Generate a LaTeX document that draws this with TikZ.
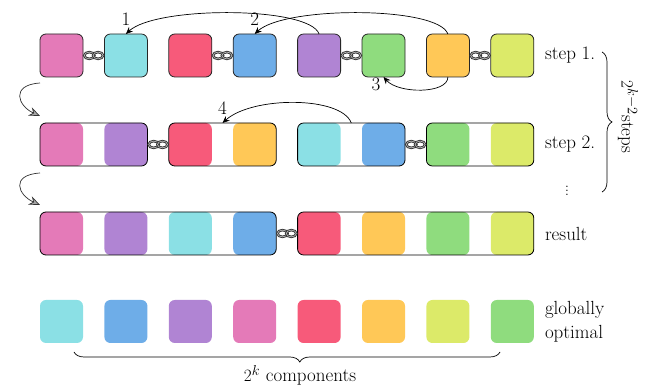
\documentclass[tikz,border=0pt]{standalone}
\usepackage{tikz}
\usetikzlibrary{arrows.meta, positioning, calc, fit, decorations.pathreplacing}
\usepackage{xcolor}
\definecolor{cpink}{HTML}{E47AB8}
\definecolor{ccyan}{HTML}{8BE0E5}
\definecolor{cred}{HTML}{F75A7A}
\definecolor{cblue}{HTML}{6EADE8}
\definecolor{cpurple}{HTML}{B084D3}
\definecolor{cgreen}{HTML}{8FDC7E}
\definecolor{corange}{HTML}{FFC857}
\definecolor{clime}{HTML}{DCEA69}

\begin{document}
\begin{tikzpicture}[
  x=1pt, y=1pt,
  font=\fontsize{19}{24}\selectfont,
  cell/.style={rectangle, rounded corners=6pt, minimum width=43pt,
    minimum height=43pt, inner sep=0pt, outer sep=0pt},
  cellb/.style={cell, draw=black!85, line width=0.8pt},
  group/.style={rectangle, draw=black, rounded corners=6pt, inner sep=0pt,
    outer sep=0pt, line width=0.8pt},
  linkline/.style={draw=black!80, line width=0.9pt, double=gray!55,
    double distance=0.7pt},
  chainlink/.pic={
    \draw[linkline] (-4.4,0) ellipse (5 and 3.4);
    \draw[linkline] (4.4,0) ellipse (5 and 3.4);
  },
  jump/.style={-{Stealth[length=7pt, width=6pt]}, line width=0.7pt},
  turn/.style={-{Stealth[length=11pt, width=9pt, fill=gray!70]},
    line width=0.7pt, black!80},
  num/.style={inner sep=0pt},
  txt/.style={inner sep=0pt, align=left},
  brace/.style={decorate, decoration={brace, amplitude=10pt}, line width=0.7pt},
  node distance=46pt and 21.4pt
]
\useasboundingbox (0,0) rectangle (653,387);

% Step 1
\node[cellb, fill=cpink] (a1) at (61.5,331.5) {};
\node[cellb, fill=ccyan, right=of a1] (a2) {};
\node[cellb, fill=cred, right=of a2] (a3) {};
\node[cellb, fill=cblue, right=of a3] (a4) {};
\node[cellb, fill=cpurple, right=of a4] (a5) {};
\node[cellb, fill=cgreen, right=of a5] (a6) {};
\node[cellb, fill=corange, right=of a6] (a7) {};
\node[cellb, fill=clime, right=of a7] (a8) {};

% Step 2
\node[cell, fill=cpink, below=of a1] (b1) {};
\node[cell, fill=cpurple, right=of b1] (b2) {};
\node[cell, fill=cred, right=of b2] (b3) {};
\node[cell, fill=corange, right=of b3] (b4) {};
\node[cell, fill=ccyan, right=of b4] (b5) {};
\node[cell, fill=cblue, right=of b5] (b6) {};
\node[cell, fill=cgreen, right=of b6] (b7) {};
\node[cell, fill=clime, right=of b7] (b8) {};
\node[group, fit=(b1)(b2)] (gb1) {};
\node[group, fit=(b3)(b4)] (gb2) {};
\node[group, fit=(b5)(b6)] (gb3) {};
\node[group, fit=(b7)(b8)] (gb4) {};

% Result
\node[cell, fill=cpink, below=of b1] (r1) {};
\node[cell, fill=cpurple, right=of r1] (r2) {};
\node[cell, fill=ccyan, right=of r2] (r3) {};
\node[cell, fill=cblue, right=of r3] (r4) {};
\node[cell, fill=cred, right=of r4] (r5) {};
\node[cell, fill=corange, right=of r5] (r6) {};
\node[cell, fill=cgreen, right=of r6] (r7) {};
\node[cell, fill=clime, right=of r7] (r8) {};
\node[group, fit=(r1)(r4)] (gr1) {};
\node[group, fit=(r5)(r8)] (gr2) {};

% Globally optimal
\node[cell, fill=ccyan, below=45pt of r1] (o1) {};
\node[cell, fill=cblue, right=of o1] (o2) {};
\node[cell, fill=cpurple, right=of o2] (o3) {};
\node[cell, fill=cpink, right=of o3] (o4) {};
\node[cell, fill=cred, right=of o4] (o5) {};
\node[cell, fill=corange, right=of o5] (o6) {};
\node[cell, fill=clime, right=of o6] (o7) {};
\node[cell, fill=cgreen, right=of o7] (o8) {};

% Links
\pic at ($(a1.east)!0.5!(a2.west)$) {chainlink};
\pic at ($(a3.east)!0.5!(a4.west)$) {chainlink};
\pic at ($(a5.east)!0.5!(a6.west)$) {chainlink};
\pic at ($(a7.east)!0.5!(a8.west)$) {chainlink};
\pic at ($(gb1.east)!0.5!(gb2.west)$) {chainlink};
\pic at ($(gb3.east)!0.5!(gb4.west)$) {chainlink};
\pic at ($(gr1.east)!0.5!(gr2.west)$) {chainlink};

% Moves
\draw[jump] (a5.north) .. controls +(-10,28) and +(30,28) .. (a2.north);
\node[num, above=8pt of a2.north] (n1) {1};
\draw[jump] (a7.north) .. controls +(-10,28) and +(30,28) .. (a4.north);
\node[num, above=8pt of a4.north] (n2) {2};
\draw[jump] (a7.south) .. controls +(0,-17) and +(15,-17) .. (a6.south);
\node[num, below left=1pt and 3pt of a6.south] (n3) {3};
\draw[jump] (gb3.north) .. controls +(-10,27) and +(30,27) .. (gb2.north);
\node[num, above=8pt of gb2.north] (n4) {4};

% Step arrows
\coordinate (s1) at ([yshift=-6pt]a1.south west);
\coordinate (e1) at ([yshift=7pt]gb1.north west);
\draw[turn] (s1) .. controls +(-30,-2) and +(-22,10) .. (e1);
\coordinate (s2) at ([yshift=-7pt]gb1.south west);
\coordinate (e2) at ([yshift=7pt]gr1.north west);
\draw[turn] (s2) .. controls +(-30,-2) and +(-22,10) .. (e2);

% Labels
\node[txt, right=11pt of a8] (st1) {step 1.};
\node[txt, right=11pt of b8] (st2) {step 2.};
\node[txt, right=11pt of r8] (res) {result};
\node[txt, right=11pt of o8] (glob) {globally\\optimal};
\node[font=\fontsize{14}{16}\selectfont] (vd) at (567,199) {$\vdots$};

% Braces
\coordinate (bt) at (602,335);
\coordinate (bb) at (602,195);
\draw[brace] (bt) -- (bb);
\node[rotate=-90] (ksteps) at (628,270) {$2^{k-2}$steps};
\coordinate (cl) at (74,35);
\coordinate (cr) at (500,35);
\draw[brace, decoration={brace, mirror, amplitude=10pt, aspect=0.53}] (cl) -- (cr);
\node (comp) at (300,12) {$2^k$ components};
\end{tikzpicture}
\end{document}
